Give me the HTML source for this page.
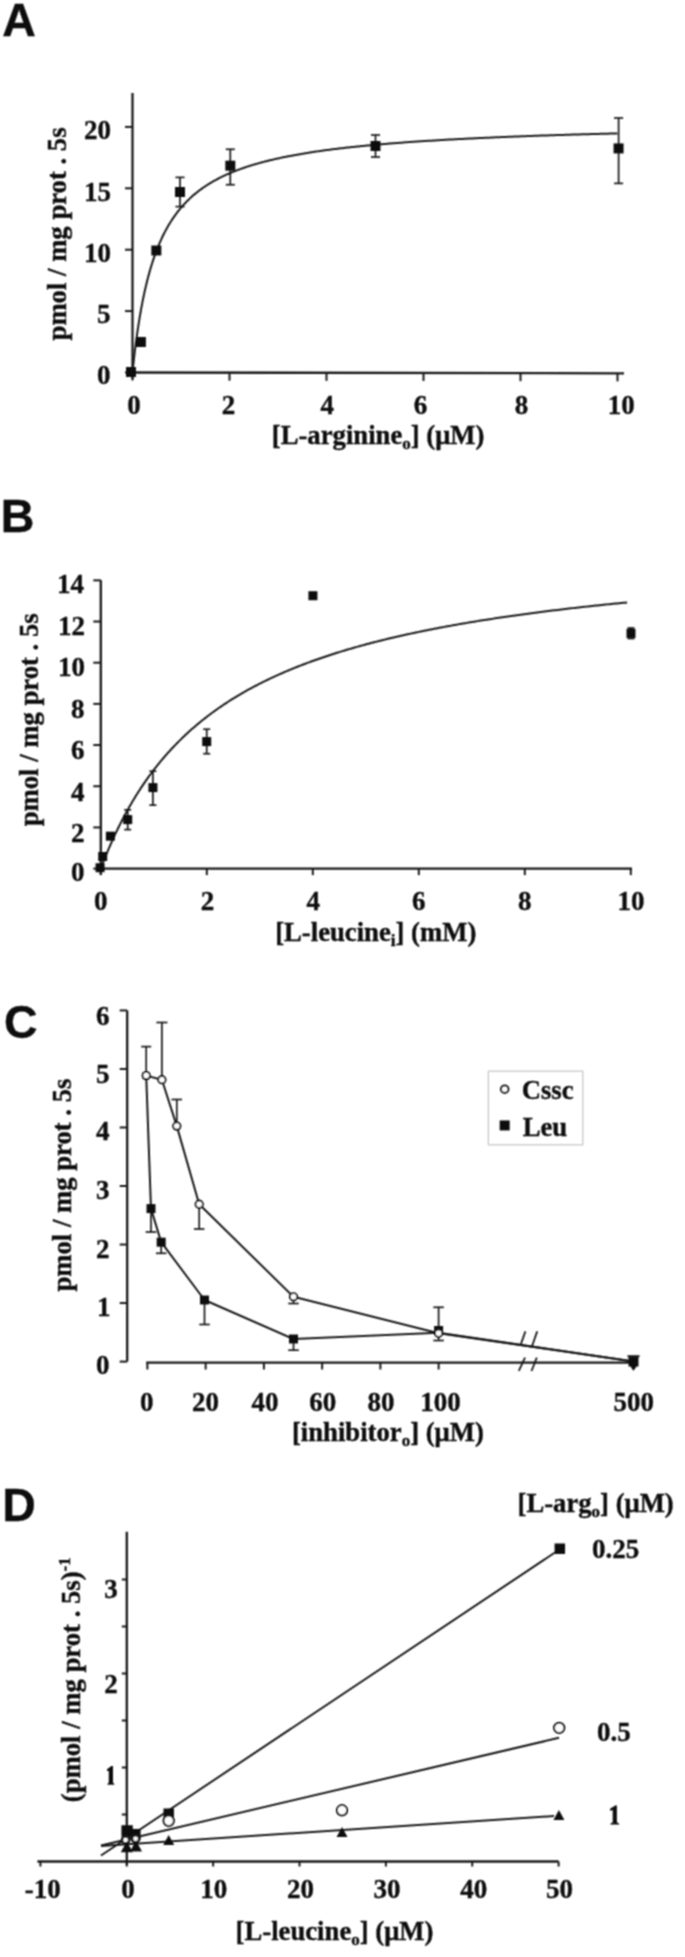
<!DOCTYPE html>
<html><head><meta charset="utf-8"><style>
html,body{margin:0;padding:0;background:#fff;}
svg{display:block;}
</style></head><body>
<svg width="685" height="1957" viewBox="0 0 685 1957">
<defs><filter id="soft" x="0" y="0" width="685" height="1957" filterUnits="userSpaceOnUse"><feConvolveMatrix order="3" kernelMatrix="1 2 1 2 4 2 1 2 1" divisor="16" edgeMode="none"/></filter></defs>
<g filter="url(#soft)">
<line x1="132.50" y1="93.00" x2="132.50" y2="379.00" stroke="#1a1a1a" stroke-width="2.3"/>
<line x1="132.50" y1="372.50" x2="624.00" y2="373.30" stroke="#1a1a1a" stroke-width="2.3"/>
<line x1="125.00" y1="372.50" x2="132.50" y2="372.50" stroke="#1a1a1a" stroke-width="2.0"/>
<line x1="125.00" y1="311.10" x2="132.50" y2="311.10" stroke="#1a1a1a" stroke-width="2.0"/>
<line x1="125.00" y1="249.70" x2="132.50" y2="249.70" stroke="#1a1a1a" stroke-width="2.0"/>
<line x1="125.00" y1="188.30" x2="132.50" y2="188.30" stroke="#1a1a1a" stroke-width="2.0"/>
<line x1="125.00" y1="126.90" x2="132.50" y2="126.90" stroke="#1a1a1a" stroke-width="2.0"/>
<line x1="132.50" y1="372.50" x2="132.50" y2="380.50" stroke="#1a1a1a" stroke-width="2.0"/>
<line x1="229.50" y1="372.66" x2="229.50" y2="380.66" stroke="#1a1a1a" stroke-width="2.0"/>
<line x1="326.50" y1="372.82" x2="326.50" y2="380.82" stroke="#1a1a1a" stroke-width="2.0"/>
<line x1="423.50" y1="372.98" x2="423.50" y2="380.98" stroke="#1a1a1a" stroke-width="2.0"/>
<line x1="520.50" y1="373.14" x2="520.50" y2="381.14" stroke="#1a1a1a" stroke-width="2.0"/>
<line x1="617.50" y1="373.30" x2="617.50" y2="381.30" stroke="#1a1a1a" stroke-width="2.0"/>
<path d="M132.50,372.50 L132.50,372.47 L132.51,372.38 L132.53,372.23 L132.55,372.02 L132.58,371.76 L132.61,371.43 L132.65,371.05 L132.69,370.61 L132.75,370.11 L132.80,369.55 L132.87,368.95 L132.94,368.28 L133.01,367.56 L133.09,366.79 L133.18,365.97 L133.28,365.10 L133.38,364.17 L133.48,363.20 L133.59,362.18 L133.71,361.12 L133.84,360.01 L133.97,358.86 L134.10,357.67 L134.25,356.43 L134.39,355.16 L134.55,353.85 L134.71,352.50 L134.88,351.12 L135.05,349.71 L135.23,348.26 L135.41,346.79 L135.60,345.28 L135.80,343.75 L136.00,342.20 L136.21,340.62 L136.43,339.02 L136.65,337.39 L136.88,335.75 L137.11,334.09 L137.35,332.41 L137.60,330.72 L137.85,329.01 L138.10,327.30 L138.37,325.57 L138.64,323.82 L138.91,322.08 L139.20,320.32 L139.48,318.56 L139.78,316.79 L140.08,315.01 L140.38,313.24 L140.70,311.46 L141.01,309.68 L141.34,307.90 L141.67,306.13 L142.01,304.35 L142.35,302.58 L142.70,300.81 L143.05,299.04 L143.41,297.28 L143.78,295.52 L144.15,293.77 L144.53,292.03 L144.92,290.30 L145.31,288.57 L145.70,286.86 L146.11,285.15 L146.52,283.45 L146.93,281.76 L147.35,280.09 L147.78,278.42 L148.21,276.77 L148.65,275.13 L149.10,273.50 L149.55,271.88 L150.01,270.27 L150.47,268.68 L150.94,267.11 L151.42,265.54 L151.90,263.99 L152.39,262.45 L152.88,260.93 L153.38,259.42 L153.89,257.93 L154.40,256.45 L154.92,254.99 L155.44,253.54 L155.97,252.10 L156.51,250.68 L157.05,249.28 L157.60,247.89 L158.16,246.51 L158.72,245.15 L159.28,243.80 L159.86,242.47 L160.44,241.16 L161.02,239.86 L161.61,238.57 L162.21,237.30 L162.81,236.04 L163.42,234.80 L164.04,233.57 L164.66,232.36 L165.29,231.16 L165.92,229.97 L166.56,228.80 L167.20,227.65 L167.86,226.50 L168.51,225.37 L169.18,224.26 L169.85,223.16 L170.52,222.07 L171.21,221.00 L171.89,219.93 L172.59,218.89 L173.29,217.85 L173.99,216.83 L174.71,215.82 L175.43,214.82 L176.15,213.84 L176.88,212.87 L177.62,211.91 L178.36,210.96 L179.11,210.03 L179.86,209.10 L180.62,208.19 L181.39,207.29 L182.16,206.40 L182.94,205.53 L183.73,204.66 L184.52,203.81 L185.32,202.96 L186.12,202.13 L186.93,201.30 L187.74,200.49 L188.57,199.69 L189.39,198.90 L190.23,198.12 L191.07,197.35 L191.91,196.58 L192.76,195.83 L193.62,195.09 L194.49,194.36 L195.36,193.63 L196.23,192.92 L197.11,192.21 L198.00,191.52 L198.90,190.83 L199.80,190.15 L200.70,189.48 L201.62,188.82 L202.53,188.16 L203.46,187.52 L204.39,186.88 L205.33,186.25 L206.27,185.63 L207.22,185.02 L208.17,184.41 L209.13,183.81 L210.10,183.22 L211.07,182.64 L212.05,182.06 L213.04,181.49 L214.03,180.93 L215.03,180.38 L216.03,179.83 L217.04,179.29 L218.05,178.75 L219.08,178.22 L220.10,177.70 L221.14,177.19 L222.18,176.68 L223.22,176.18 L224.27,175.68 L225.33,175.19 L226.40,174.70 L227.47,174.23 L228.54,173.75 L229.62,173.29 L230.71,172.82 L231.81,172.37 L232.91,171.92 L234.01,171.47 L235.13,171.03 L236.24,170.60 L237.37,170.17 L238.50,169.74 L239.64,169.32 L240.78,168.91 L241.93,168.50 L243.08,168.09 L244.24,167.69 L245.41,167.30 L246.58,166.91 L247.76,166.52 L248.95,166.14 L250.14,165.76 L251.34,165.39 L252.54,165.02 L253.75,164.66 L254.97,164.30 L256.19,163.94 L257.41,163.59 L258.65,163.24 L259.89,162.90 L261.13,162.56 L262.39,162.22 L263.64,161.89 L264.91,161.56 L266.18,161.23 L267.45,160.91 L268.74,160.59 L270.02,160.28 L271.32,159.97 L272.62,159.66 L273.93,159.35 L275.24,159.05 L276.56,158.76 L277.88,158.46 L279.21,158.17 L280.55,157.88 L281.89,157.60 L283.24,157.32 L284.60,157.04 L285.96,156.76 L287.32,156.49 L288.70,156.22 L290.08,155.95 L291.46,155.69 L292.85,155.43 L294.25,155.17 L295.65,154.91 L297.06,154.66 L298.48,154.41 L299.90,154.16 L301.33,153.92 L302.76,153.67 L304.20,153.43 L305.65,153.19 L307.10,152.96 L308.56,152.73 L310.02,152.50 L311.49,152.27 L312.97,152.04 L314.45,151.82 L315.94,151.60 L317.43,151.38 L318.93,151.16 L320.44,150.95 L321.95,150.74 L323.47,150.53 L325.00,150.32 L326.53,150.11 L328.06,149.91 L329.61,149.71 L331.16,149.51 L332.71,149.31 L334.27,149.11 L335.84,148.92 L337.41,148.73 L338.99,148.53 L340.58,148.35 L342.17,148.16 L343.77,147.98 L345.37,147.79 L346.98,147.61 L348.59,147.43 L350.22,147.25 L351.84,147.08 L353.48,146.90 L355.12,146.73 L356.76,146.56 L358.42,146.39 L360.07,146.22 L361.74,146.06 L363.41,145.89 L365.08,145.73 L366.77,145.57 L368.46,145.41 L370.15,145.25 L371.85,145.09 L373.56,144.93 L375.27,144.78 L376.99,144.63 L378.71,144.48 L380.44,144.33 L382.18,144.18 L383.92,144.03 L385.67,143.88 L387.43,143.74 L389.19,143.60 L390.96,143.45 L392.73,143.31 L394.51,143.17 L396.29,143.04 L398.09,142.90 L399.88,142.76 L401.69,142.63 L403.50,142.49 L405.31,142.36 L407.13,142.23 L408.96,142.10 L410.80,141.97 L412.64,141.84 L414.48,141.72 L416.33,141.59 L418.19,141.47 L420.06,141.35 L421.93,141.22 L423.80,141.10 L425.69,140.98 L427.57,140.86 L429.47,140.74 L431.37,140.63 L433.28,140.51 L435.19,140.40 L437.11,140.28 L439.03,140.17 L440.96,140.06 L442.90,139.95 L444.84,139.84 L446.79,139.73 L448.75,139.62 L450.71,139.51 L452.68,139.40 L454.65,139.30 L456.63,139.19 L458.61,139.09 L460.61,138.99 L462.60,138.88 L464.61,138.78 L466.62,138.68 L468.63,138.58 L470.65,138.48 L472.68,138.38 L474.72,138.29 L476.76,138.19 L478.80,138.09 L480.85,138.00 L482.91,137.90 L484.98,137.81 L487.05,137.72 L489.12,137.63 L491.21,137.53 L493.29,137.44 L495.39,137.35 L497.49,137.26 L499.60,137.18 L501.71,137.09 L503.83,137.00 L505.95,136.91 L508.08,136.83 L510.22,136.74 L512.36,136.66 L514.51,136.58 L516.67,136.49 L518.83,136.41 L521.00,136.33 L523.17,136.25 L525.35,136.17 L527.54,136.09 L529.73,136.01 L531.92,135.93 L534.13,135.85 L536.34,135.77 L538.55,135.69 L540.78,135.62 L543.00,135.54 L545.24,135.47 L547.48,135.39 L549.72,135.32 L551.98,135.24 L554.23,135.17 L556.50,135.10 L558.77,135.03 L561.05,134.95 L563.33,134.88 L565.62,134.81 L567.91,134.74 L570.21,134.67 L572.52,134.60 L574.83,134.54 L577.15,134.47 L579.48,134.40 L581.81,134.33 L584.14,134.27 L586.49,134.20 L588.84,134.14 L591.19,134.07 L593.55,134.01 L595.92,133.94 L598.29,133.88 L600.67,133.82 L603.06,133.75 L605.45,133.69 L607.85,133.63 L610.25,133.57 L612.66,133.51 L615.08,133.45 L617.50,133.39" fill="none" stroke="#1a1a1a" stroke-width="2.0" stroke-linejoin="round"/>
<rect x="126.00" y="367.00" width="10" height="10" fill="#111"/>
<rect x="135.90" y="337.00" width="10" height="10" fill="#111"/>
<rect x="151.30" y="245.50" width="10" height="10" fill="#111"/>
<line x1="180.00" y1="177.40" x2="180.00" y2="206.60" stroke="#1a1a1a" stroke-width="1.7"/>
<line x1="175.50" y1="177.40" x2="184.50" y2="177.40" stroke="#1a1a1a" stroke-width="1.7"/>
<line x1="175.50" y1="206.60" x2="184.50" y2="206.60" stroke="#1a1a1a" stroke-width="1.7"/>
<rect x="175.00" y="187.00" width="10" height="10" fill="#111"/>
<line x1="230.30" y1="149.30" x2="230.30" y2="184.70" stroke="#1a1a1a" stroke-width="1.7"/>
<line x1="225.80" y1="149.30" x2="234.80" y2="149.30" stroke="#1a1a1a" stroke-width="1.7"/>
<line x1="225.80" y1="184.70" x2="234.80" y2="184.70" stroke="#1a1a1a" stroke-width="1.7"/>
<rect x="225.30" y="160.70" width="10" height="10" fill="#111"/>
<line x1="375.50" y1="135.00" x2="375.50" y2="157.00" stroke="#1a1a1a" stroke-width="1.7"/>
<line x1="371.00" y1="135.00" x2="380.00" y2="135.00" stroke="#1a1a1a" stroke-width="1.7"/>
<line x1="371.00" y1="157.00" x2="380.00" y2="157.00" stroke="#1a1a1a" stroke-width="1.7"/>
<rect x="370.50" y="141.00" width="10" height="10" fill="#111"/>
<line x1="618.60" y1="118.00" x2="618.60" y2="183.40" stroke="#1a1a1a" stroke-width="1.7"/>
<line x1="614.10" y1="118.00" x2="623.10" y2="118.00" stroke="#1a1a1a" stroke-width="1.7"/>
<line x1="614.10" y1="183.40" x2="623.10" y2="183.40" stroke="#1a1a1a" stroke-width="1.7"/>
<rect x="613.60" y="143.40" width="10" height="10" fill="#111"/>
<line x1="100.80" y1="580.30" x2="100.80" y2="875.00" stroke="#1a1a1a" stroke-width="2.3"/>
<line x1="100.80" y1="868.60" x2="632.00" y2="868.60" stroke="#1a1a1a" stroke-width="2.3"/>
<line x1="93.30" y1="868.60" x2="100.80" y2="868.60" stroke="#1a1a1a" stroke-width="2.0"/>
<line x1="93.30" y1="827.42" x2="100.80" y2="827.42" stroke="#1a1a1a" stroke-width="2.0"/>
<line x1="93.30" y1="786.24" x2="100.80" y2="786.24" stroke="#1a1a1a" stroke-width="2.0"/>
<line x1="93.30" y1="745.06" x2="100.80" y2="745.06" stroke="#1a1a1a" stroke-width="2.0"/>
<line x1="93.30" y1="703.88" x2="100.80" y2="703.88" stroke="#1a1a1a" stroke-width="2.0"/>
<line x1="93.30" y1="662.70" x2="100.80" y2="662.70" stroke="#1a1a1a" stroke-width="2.0"/>
<line x1="93.30" y1="621.52" x2="100.80" y2="621.52" stroke="#1a1a1a" stroke-width="2.0"/>
<line x1="93.30" y1="580.34" x2="100.80" y2="580.34" stroke="#1a1a1a" stroke-width="2.0"/>
<line x1="100.80" y1="868.60" x2="100.80" y2="875.10" stroke="#1a1a1a" stroke-width="2.0"/>
<line x1="206.80" y1="868.60" x2="206.80" y2="875.10" stroke="#1a1a1a" stroke-width="2.0"/>
<line x1="312.80" y1="868.60" x2="312.80" y2="875.10" stroke="#1a1a1a" stroke-width="2.0"/>
<line x1="418.80" y1="868.60" x2="418.80" y2="875.10" stroke="#1a1a1a" stroke-width="2.0"/>
<line x1="524.80" y1="868.60" x2="524.80" y2="875.10" stroke="#1a1a1a" stroke-width="2.0"/>
<line x1="630.80" y1="868.60" x2="630.80" y2="875.10" stroke="#1a1a1a" stroke-width="2.0"/>
<path d="M100.80,868.60 L100.87,868.43 L100.99,868.11 L101.14,867.69 L101.33,867.21 L101.54,866.65 L101.77,866.05 L102.02,865.39 L102.29,864.69 L102.58,863.94 L102.88,863.16 L103.20,862.33 L103.53,861.48 L103.88,860.59 L104.25,859.68 L104.62,858.74 L105.01,857.77 L105.41,856.77 L105.82,855.75 L106.25,854.71 L106.68,853.65 L107.13,852.57 L107.59,851.48 L108.06,850.36 L108.53,849.23 L109.02,848.08 L109.52,846.92 L110.03,845.75 L110.55,844.56 L111.07,843.36 L111.61,842.15 L112.15,840.93 L112.71,839.70 L113.27,838.46 L113.84,837.21 L114.42,835.95 L115.01,834.69 L115.61,833.42 L116.21,832.14 L116.82,830.86 L117.44,829.57 L118.07,828.28 L118.71,826.98 L119.35,825.68 L120.00,824.38 L120.66,823.08 L121.32,821.77 L122.00,820.46 L122.68,819.14 L123.36,817.83 L124.06,816.52 L124.76,815.20 L125.47,813.89 L126.18,812.57 L126.91,811.25 L127.63,809.94 L128.37,808.63 L129.11,807.31 L129.86,806.00 L130.61,804.69 L131.37,803.38 L132.14,802.08 L132.92,800.78 L133.70,799.47 L134.48,798.18 L135.28,796.88 L136.07,795.59 L136.88,794.30 L137.69,793.01 L138.51,791.73 L139.33,790.45 L140.16,789.18 L140.99,787.91 L141.83,786.64 L142.68,785.38 L143.53,784.12 L144.39,782.87 L145.25,781.62 L146.12,780.38 L146.99,779.14 L147.87,777.91 L148.76,776.68 L149.65,775.45 L150.55,774.24 L151.45,773.02 L152.35,771.82 L153.27,770.61 L154.18,769.42 L155.11,768.23 L156.04,767.04 L156.97,765.86 L157.91,764.69 L158.85,763.52 L159.80,762.36 L160.76,761.20 L161.71,760.05 L162.68,758.90 L163.65,757.76 L164.62,756.63 L165.60,755.50 L166.59,754.38 L167.58,753.27 L168.57,752.16 L169.57,751.06 L170.57,749.96 L171.58,748.87 L172.59,747.79 L173.61,746.71 L174.64,745.64 L175.66,744.57 L176.70,743.51 L177.73,742.46 L178.78,741.41 L179.82,740.37 L180.87,739.34 L181.93,738.31 L182.99,737.28 L184.06,736.27 L185.13,735.26 L186.20,734.25 L187.28,733.25 L188.36,732.26 L189.45,731.28 L190.54,730.30 L191.64,729.32 L192.74,728.36 L193.84,727.39 L194.95,726.44 L196.07,725.49 L197.19,724.54 L198.31,723.61 L199.44,722.68 L200.57,721.75 L201.70,720.83 L202.85,719.91 L203.99,719.01 L205.14,718.10 L206.29,717.21 L207.45,716.32 L208.61,715.43 L209.78,714.55 L210.94,713.68 L212.12,712.81 L213.30,711.95 L214.48,711.09 L215.66,710.24 L216.86,709.39 L218.05,708.55 L219.25,707.72 L220.45,706.89 L221.66,706.06 L222.87,705.24 L224.08,704.43 L225.30,703.62 L226.52,702.82 L227.75,702.02 L228.98,701.23 L230.21,700.44 L231.45,699.66 L232.70,698.88 L233.94,698.11 L235.19,697.35 L236.45,696.58 L237.70,695.83 L238.97,695.08 L240.23,694.33 L241.50,693.59 L242.77,692.85 L244.05,692.12 L245.33,691.39 L246.62,690.67 L247.91,689.95 L249.20,689.24 L250.49,688.53 L251.79,687.83 L253.10,687.13 L254.40,686.43 L255.72,685.75 L257.03,685.06 L258.35,684.38 L259.67,683.70 L261.00,683.03 L262.33,682.36 L263.66,681.70 L265.00,681.04 L266.34,680.39 L267.68,679.74 L269.03,679.09 L270.38,678.45 L271.73,677.82 L273.09,677.18 L274.45,676.55 L275.82,675.93 L277.19,675.31 L278.56,674.69 L279.94,674.08 L281.32,673.47 L282.70,672.87 L284.09,672.26 L285.48,671.67 L286.87,671.07 L288.27,670.49 L289.67,669.90 L291.07,669.32 L292.48,668.74 L293.89,668.17 L295.31,667.60 L296.73,667.03 L298.15,666.47 L299.57,665.91 L301.00,665.35 L302.43,664.80 L303.87,664.25 L305.31,663.71 L306.75,663.17 L308.19,662.63 L309.64,662.09 L311.09,661.56 L312.55,661.03 L314.01,660.51 L315.47,659.99 L316.93,659.47 L318.40,658.96 L319.87,658.45 L321.35,657.94 L322.83,657.43 L324.31,656.93 L325.80,656.43 L327.28,655.94 L328.78,655.45 L330.27,654.96 L331.77,654.47 L333.27,653.99 L334.77,653.51 L336.28,653.03 L337.79,652.56 L339.31,652.09 L340.83,651.62 L342.35,651.15 L343.87,650.69 L345.40,650.23 L346.93,649.77 L348.46,649.32 L350.00,648.87 L351.54,648.42 L353.08,647.98 L354.63,647.53 L356.18,647.09 L357.73,646.66 L359.28,646.22 L360.84,645.79 L362.40,645.36 L363.97,644.94 L365.54,644.51 L367.11,644.09 L368.68,643.67 L370.26,643.26 L371.84,642.84 L373.42,642.43 L375.01,642.02 L376.60,641.62 L378.19,641.21 L379.79,640.81 L381.39,640.41 L382.99,640.02 L384.59,639.62 L386.20,639.23 L387.81,638.84 L389.43,638.45 L391.04,638.07 L392.66,637.69 L394.29,637.31 L395.91,636.93 L397.54,636.55 L399.17,636.18 L400.81,635.81 L402.45,635.44 L404.09,635.07 L405.73,634.71 L407.38,634.34 L409.03,633.98 L410.68,633.62 L412.34,633.27 L413.99,632.91 L415.66,632.56 L417.32,632.21 L418.99,631.86 L420.66,631.52 L422.33,631.17 L424.01,630.83 L425.69,630.49 L427.37,630.15 L429.05,629.82 L430.74,629.48 L432.43,629.15 L434.13,628.82 L435.82,628.49 L437.52,628.16 L439.22,627.84 L440.93,627.51 L442.64,627.19 L444.35,626.87 L446.06,626.56 L447.78,626.24 L449.49,625.93 L451.22,625.61 L452.94,625.30 L454.67,624.99 L456.40,624.69 L458.13,624.38 L459.87,624.08 L461.61,623.78 L463.35,623.48 L465.09,623.18 L466.84,622.88 L468.59,622.59 L470.34,622.29 L472.10,622.00 L473.86,621.71 L475.62,621.42 L477.38,621.13 L479.15,620.85 L480.92,620.56 L482.69,620.28 L484.47,620.00 L486.24,619.72 L488.02,619.44 L489.81,619.17 L491.59,618.89 L493.38,618.62 L495.17,618.35 L496.97,618.08 L498.76,617.81 L500.56,617.54 L502.36,617.27 L504.17,617.01 L505.98,616.74 L507.79,616.48 L509.60,616.22 L511.41,615.96 L513.23,615.70 L515.05,615.45 L516.88,615.19 L518.70,614.94 L520.53,614.69 L522.36,614.44 L524.20,614.19 L526.04,613.94 L527.87,613.69 L529.72,613.45 L531.56,613.20 L533.41,612.96 L535.26,612.72 L537.11,612.48 L538.97,612.24 L540.83,612.00 L542.69,611.76 L544.55,611.52 L546.41,611.29 L548.28,611.06 L550.15,610.82 L552.03,610.59 L553.90,610.36 L555.78,610.14 L557.66,609.91 L559.55,609.68 L561.43,609.46 L563.32,609.23 L565.22,609.01 L567.11,608.79 L569.01,608.57 L570.91,608.35 L572.81,608.13 L574.71,607.91 L576.62,607.70 L578.53,607.48 L580.44,607.27 L582.36,607.05 L584.27,606.84 L586.19,606.63 L588.12,606.42 L590.04,606.21 L591.97,606.01 L593.90,605.80 L595.83,605.59 L597.77,605.39 L599.70,605.18 L601.64,604.98 L603.59,604.78 L605.53,604.58 L607.48,604.38 L609.43,604.18 L611.38,603.98 L613.34,603.79 L615.29,603.59 L617.25,603.40 L619.22,603.20 L621.18,603.01 L623.15,602.82 L625.12,602.63 L627.09,602.44" fill="none" stroke="#1a1a1a" stroke-width="2.0" stroke-linejoin="round"/>
<rect x="95.60" y="863.20" width="9" height="9" fill="#111"/>
<rect x="98.20" y="852.00" width="9" height="9" fill="#111"/>
<rect x="105.90" y="831.70" width="9" height="9" fill="#111"/>
<line x1="127.70" y1="809.80" x2="127.70" y2="829.60" stroke="#1a1a1a" stroke-width="1.7"/>
<line x1="124.20" y1="809.80" x2="131.20" y2="809.80" stroke="#1a1a1a" stroke-width="1.7"/>
<line x1="124.20" y1="829.60" x2="131.20" y2="829.60" stroke="#1a1a1a" stroke-width="1.7"/>
<rect x="123.20" y="815.10" width="9" height="9" fill="#111"/>
<line x1="152.90" y1="771.20" x2="152.90" y2="805.10" stroke="#1a1a1a" stroke-width="1.7"/>
<line x1="149.40" y1="771.20" x2="156.40" y2="771.20" stroke="#1a1a1a" stroke-width="1.7"/>
<line x1="149.40" y1="805.10" x2="156.40" y2="805.10" stroke="#1a1a1a" stroke-width="1.7"/>
<rect x="148.40" y="783.10" width="9" height="9" fill="#111"/>
<line x1="206.70" y1="729.20" x2="206.70" y2="753.70" stroke="#1a1a1a" stroke-width="1.7"/>
<line x1="203.20" y1="729.20" x2="210.20" y2="729.20" stroke="#1a1a1a" stroke-width="1.7"/>
<line x1="203.20" y1="753.70" x2="210.20" y2="753.70" stroke="#1a1a1a" stroke-width="1.7"/>
<rect x="202.20" y="737.10" width="9" height="9" fill="#111"/>
<rect x="308.40" y="591.20" width="9" height="9" fill="#111"/>
<line x1="631.00" y1="628.00" x2="631.00" y2="638.50" stroke="#1a1a1a" stroke-width="1.7"/>
<line x1="627.50" y1="628.00" x2="634.50" y2="628.00" stroke="#1a1a1a" stroke-width="1.7"/>
<line x1="627.50" y1="638.50" x2="634.50" y2="638.50" stroke="#1a1a1a" stroke-width="1.7"/>
<rect x="626.50" y="628.90" width="9" height="9" fill="#111"/>
<line x1="127.20" y1="1010.42" x2="127.20" y2="1361.60" stroke="#1a1a1a" stroke-width="2.3"/>
<line x1="119.70" y1="1361.60" x2="127.20" y2="1361.60" stroke="#1a1a1a" stroke-width="2.0"/>
<line x1="119.70" y1="1303.07" x2="127.20" y2="1303.07" stroke="#1a1a1a" stroke-width="2.0"/>
<line x1="119.70" y1="1244.54" x2="127.20" y2="1244.54" stroke="#1a1a1a" stroke-width="2.0"/>
<line x1="119.70" y1="1186.01" x2="127.20" y2="1186.01" stroke="#1a1a1a" stroke-width="2.0"/>
<line x1="119.70" y1="1127.48" x2="127.20" y2="1127.48" stroke="#1a1a1a" stroke-width="2.0"/>
<line x1="119.70" y1="1068.95" x2="127.20" y2="1068.95" stroke="#1a1a1a" stroke-width="2.0"/>
<line x1="119.70" y1="1010.42" x2="127.20" y2="1010.42" stroke="#1a1a1a" stroke-width="2.0"/>
<line x1="146.20" y1="1362.70" x2="633.20" y2="1362.70" stroke="#1a1a1a" stroke-width="2.3"/>
<line x1="147.40" y1="1362.70" x2="147.40" y2="1369.50" stroke="#1a1a1a" stroke-width="2.0"/>
<line x1="205.65" y1="1362.70" x2="205.65" y2="1369.50" stroke="#1a1a1a" stroke-width="2.0"/>
<line x1="263.90" y1="1362.70" x2="263.90" y2="1369.50" stroke="#1a1a1a" stroke-width="2.0"/>
<line x1="322.15" y1="1362.70" x2="322.15" y2="1369.50" stroke="#1a1a1a" stroke-width="2.0"/>
<line x1="380.40" y1="1362.70" x2="380.40" y2="1369.50" stroke="#1a1a1a" stroke-width="2.0"/>
<line x1="438.65" y1="1362.70" x2="438.65" y2="1369.50" stroke="#1a1a1a" stroke-width="2.0"/>
<line x1="633.20" y1="1362.70" x2="633.20" y2="1369.50" stroke="#1a1a1a" stroke-width="2.0"/>
<line x1="518.80" y1="1370.80" x2="525.00" y2="1357.70" stroke="#1a1a1a" stroke-width="1.8"/>
<line x1="531.50" y1="1371.00" x2="536.80" y2="1357.70" stroke="#1a1a1a" stroke-width="1.8"/>
<path d="M146.20,1075.60 L161.90,1079.70 L176.80,1126.10 L199.20,1204.20 L293.50,1296.80 L438.60,1333.30 L633.50,1361.50" fill="none" stroke="#1a1a1a" stroke-width="2.0" stroke-linejoin="round"/>
<path d="M146.20,1075.60 L151.00,1208.60 L161.20,1242.20 L204.50,1300.00 L293.50,1339.00 L438.60,1332.80 L633.50,1361.50" fill="none" stroke="#1a1a1a" stroke-width="2.0" stroke-linejoin="round"/>
<line x1="146.20" y1="1075.60" x2="146.20" y2="1046.60" stroke="#1a1a1a" stroke-width="1.7"/>
<line x1="141.20" y1="1046.60" x2="151.20" y2="1046.60" stroke="#1a1a1a" stroke-width="1.7"/>
<line x1="161.90" y1="1079.70" x2="161.90" y2="1022.50" stroke="#1a1a1a" stroke-width="1.7"/>
<line x1="156.40" y1="1022.50" x2="167.40" y2="1022.50" stroke="#1a1a1a" stroke-width="1.7"/>
<line x1="176.80" y1="1126.10" x2="176.80" y2="1099.50" stroke="#1a1a1a" stroke-width="1.7"/>
<line x1="171.55" y1="1099.50" x2="182.05" y2="1099.50" stroke="#1a1a1a" stroke-width="1.7"/>
<line x1="199.20" y1="1204.20" x2="199.20" y2="1229.00" stroke="#1a1a1a" stroke-width="1.7"/>
<line x1="193.95" y1="1229.00" x2="204.45" y2="1229.00" stroke="#1a1a1a" stroke-width="1.7"/>
<line x1="293.50" y1="1296.80" x2="293.50" y2="1303.50" stroke="#1a1a1a" stroke-width="1.7"/>
<line x1="288.25" y1="1303.50" x2="298.75" y2="1303.50" stroke="#1a1a1a" stroke-width="1.7"/>
<line x1="438.60" y1="1333.30" x2="438.60" y2="1307.30" stroke="#1a1a1a" stroke-width="1.7"/>
<line x1="433.35" y1="1307.30" x2="443.85" y2="1307.30" stroke="#1a1a1a" stroke-width="1.7"/>
<line x1="438.60" y1="1333.30" x2="438.60" y2="1340.50" stroke="#1a1a1a" stroke-width="1.7"/>
<line x1="433.35" y1="1340.50" x2="443.85" y2="1340.50" stroke="#1a1a1a" stroke-width="1.7"/>
<line x1="151.00" y1="1208.60" x2="151.00" y2="1232.00" stroke="#1a1a1a" stroke-width="1.7"/>
<line x1="145.75" y1="1232.00" x2="156.25" y2="1232.00" stroke="#1a1a1a" stroke-width="1.7"/>
<line x1="161.20" y1="1242.20" x2="161.20" y2="1253.30" stroke="#1a1a1a" stroke-width="1.7"/>
<line x1="155.95" y1="1253.30" x2="166.45" y2="1253.30" stroke="#1a1a1a" stroke-width="1.7"/>
<line x1="204.50" y1="1300.00" x2="204.50" y2="1324.50" stroke="#1a1a1a" stroke-width="1.7"/>
<line x1="199.25" y1="1324.50" x2="209.75" y2="1324.50" stroke="#1a1a1a" stroke-width="1.7"/>
<line x1="293.50" y1="1339.00" x2="293.50" y2="1350.20" stroke="#1a1a1a" stroke-width="1.7"/>
<line x1="288.25" y1="1350.20" x2="298.75" y2="1350.20" stroke="#1a1a1a" stroke-width="1.7"/>
<line x1="520.60" y1="1345.00" x2="525.40" y2="1331.40" stroke="#1a1a1a" stroke-width="1.8"/>
<line x1="532.00" y1="1346.30" x2="537.20" y2="1331.40" stroke="#1a1a1a" stroke-width="1.8"/>
<rect x="146.50" y="1204.10" width="9" height="9" fill="#111"/>
<rect x="156.70" y="1237.70" width="9" height="9" fill="#111"/>
<rect x="200.00" y="1295.50" width="9" height="9" fill="#111"/>
<rect x="289.00" y="1334.50" width="9" height="9" fill="#111"/>
<rect x="434.10" y="1326.00" width="9" height="9" fill="#111"/>
<rect x="628.50" y="1356.50" width="10" height="10" fill="#111"/>
<line x1="627.50" y1="1356.20" x2="639.50" y2="1356.20" stroke="#1a1a1a" stroke-width="2"/>
<path d="M629.8,1365.5 L637.2,1365.5 L633.5,1370.8 Z" fill="#111"/>
<rect x="142.70" y="1072.10" width="7" height="7" fill="#111"/>
<circle cx="146.20" cy="1075.60" r="3.7" fill="#fff" stroke="#1a1a1a" stroke-width="1.9"/>
<circle cx="161.90" cy="1079.70" r="3.7" fill="#fff" stroke="#1a1a1a" stroke-width="1.9"/>
<circle cx="176.80" cy="1126.10" r="3.7" fill="#fff" stroke="#1a1a1a" stroke-width="1.9"/>
<circle cx="199.20" cy="1204.20" r="3.7" fill="#fff" stroke="#1a1a1a" stroke-width="1.9"/>
<circle cx="293.50" cy="1296.80" r="3.7" fill="#fff" stroke="#1a1a1a" stroke-width="1.9"/>
<circle cx="438.60" cy="1333.30" r="3.7" fill="#fff" stroke="#1a1a1a" stroke-width="1.9"/>
<rect x="488.4" y="1071.2" width="94.4" height="73.6" fill="none" stroke="#c4c4c4" stroke-width="1.2"/>
<circle cx="504.70" cy="1089.20" r="3.7" fill="#fff" stroke="#1a1a1a" stroke-width="2.1"/>
<rect x="499.70" y="1120.40" width="10" height="10" fill="#111"/>
<line x1="126.80" y1="1531.70" x2="126.80" y2="1865.00" stroke="#1a1a1a" stroke-width="2.3"/>
<line x1="37.40" y1="1861.50" x2="558.60" y2="1861.50" stroke="#1a1a1a" stroke-width="2.3"/>
<line x1="121.80" y1="1814.50" x2="126.80" y2="1814.50" stroke="#1a1a1a" stroke-width="2.0"/>
<line x1="121.80" y1="1767.50" x2="126.80" y2="1767.50" stroke="#1a1a1a" stroke-width="2.0"/>
<line x1="121.80" y1="1720.50" x2="126.80" y2="1720.50" stroke="#1a1a1a" stroke-width="2.0"/>
<line x1="121.80" y1="1673.50" x2="126.80" y2="1673.50" stroke="#1a1a1a" stroke-width="2.0"/>
<line x1="121.80" y1="1626.50" x2="126.80" y2="1626.50" stroke="#1a1a1a" stroke-width="2.0"/>
<line x1="121.80" y1="1579.50" x2="126.80" y2="1579.50" stroke="#1a1a1a" stroke-width="2.0"/>
<path d="M107.00,1769.25 L111.40,1766.10 L113.00,1766.10 L113.00,1782.40 L114.30,1784.00 L114.30,1784.80 L107.50,1784.80 L107.50,1784.00 L108.80,1782.40 L108.80,1770.63 L107.00,1771.32 Z" fill="#0d0d0d"/>
<line x1="40.44" y1="1861.50" x2="40.44" y2="1866.50" stroke="#1a1a1a" stroke-width="2.0"/>
<line x1="126.80" y1="1861.50" x2="126.80" y2="1866.50" stroke="#1a1a1a" stroke-width="2.0"/>
<line x1="213.16" y1="1861.50" x2="213.16" y2="1866.50" stroke="#1a1a1a" stroke-width="2.0"/>
<line x1="299.52" y1="1861.50" x2="299.52" y2="1866.50" stroke="#1a1a1a" stroke-width="2.0"/>
<line x1="385.88" y1="1861.50" x2="385.88" y2="1866.50" stroke="#1a1a1a" stroke-width="2.0"/>
<line x1="472.24" y1="1861.50" x2="472.24" y2="1866.50" stroke="#1a1a1a" stroke-width="2.0"/>
<line x1="558.60" y1="1861.50" x2="558.60" y2="1866.50" stroke="#1a1a1a" stroke-width="2.0"/>
<path d="M610.00,1808.63 L615.30,1805.40 L616.90,1805.40 L616.90,1822.20 L619.20,1823.80 L619.20,1824.60 L610.40,1824.60 L610.40,1823.80 L612.70,1822.20 L612.70,1810.05 L610.00,1810.76 Z" fill="#0d0d0d"/>
<path d="M101.00,1855.50 L555.00,1552.50" fill="none" stroke="#1a1a1a" stroke-width="2.0" stroke-linejoin="round"/>
<path d="M101.00,1845.50 L559.00,1737.80" fill="none" stroke="#1a1a1a" stroke-width="2.0" stroke-linejoin="round"/>
<path d="M101.00,1846.00 L554.00,1816.00" fill="none" stroke="#1a1a1a" stroke-width="2.0" stroke-linejoin="round"/>
<rect x="121.40" y="1825.20" width="11.4" height="11.4" fill="#111"/>
<rect x="130.15" y="1828.95" width="10.5" height="10.5" fill="#111"/>
<rect x="163.45" y="1808.45" width="10.5" height="10.5" fill="#111"/>
<rect x="554.55" y="1543.45" width="10.5" height="10.5" fill="#111"/>
<circle cx="125.60" cy="1840.00" r="3.6" fill="#fff" stroke="#1a1a1a" stroke-width="2.6"/>
<circle cx="135.60" cy="1838.80" r="3.6" fill="#fff" stroke="#1a1a1a" stroke-width="2.6"/>
<circle cx="168.70" cy="1820.80" r="5.2" fill="#fff" stroke="#1a1a1a" stroke-width="2"/>
<circle cx="342.00" cy="1810.30" r="5.2" fill="#fff" stroke="#1a1a1a" stroke-width="2"/>
<circle cx="559.20" cy="1727.90" r="5.2" fill="#fff" stroke="#1a1a1a" stroke-width="2"/>
<path d="M120.80,1852.26 L126.80,1841.34 L132.80,1852.26 Z" fill="#111"/>
<path d="M130.00,1851.46 L136.00,1840.54 L142.00,1851.46 Z" fill="#111"/>
<path d="M163.20,1845.11 L168.70,1835.09 L174.20,1845.11 Z" fill="#111"/>
<path d="M336.50,1837.01 L342.00,1826.99 L347.50,1837.01 Z" fill="#111"/>
<path d="M553.40,1820.01 L558.90,1809.99 L564.40,1820.01 Z" fill="#111"/>
<text transform="translate(2.20,35.60)" font-size="46.5" font-family='"Liberation Sans", sans-serif' font-weight="bold" fill="#0d0d0d" stroke="#0d0d0d" stroke-width="0.35">A</text>
<text transform="translate(97.00,384.10)" font-size="27" font-family='"Liberation Serif", serif' font-weight="bold" fill="#0d0d0d" stroke="#0d0d0d" stroke-width="0.35">0</text>
<text transform="translate(97.00,323.10)" font-size="27" font-family='"Liberation Serif", serif' font-weight="bold" fill="#0d0d0d" stroke="#0d0d0d" stroke-width="0.35">5</text>
<text transform="translate(84.00,262.00)" font-size="27" font-family='"Liberation Serif", serif' font-weight="bold" fill="#0d0d0d" stroke="#0d0d0d" stroke-width="0.35">10</text>
<text transform="translate(84.00,201.00)" font-size="27" font-family='"Liberation Serif", serif' font-weight="bold" fill="#0d0d0d" stroke="#0d0d0d" stroke-width="0.35">15</text>
<text transform="translate(84.00,138.90)" font-size="27" font-family='"Liberation Serif", serif' font-weight="bold" fill="#0d0d0d" stroke="#0d0d0d" stroke-width="0.35">20</text>
<text transform="translate(127.20,413.50)" font-size="27" font-family='"Liberation Serif", serif' font-weight="bold" fill="#0d0d0d" stroke="#0d0d0d" stroke-width="0.35">0</text>
<text transform="translate(221.70,413.50)" font-size="27" font-family='"Liberation Serif", serif' font-weight="bold" fill="#0d0d0d" stroke="#0d0d0d" stroke-width="0.35">2</text>
<text transform="translate(320.50,413.50)" font-size="27" font-family='"Liberation Serif", serif' font-weight="bold" fill="#0d0d0d" stroke="#0d0d0d" stroke-width="0.35">4</text>
<text transform="translate(413.70,413.50)" font-size="27" font-family='"Liberation Serif", serif' font-weight="bold" fill="#0d0d0d" stroke="#0d0d0d" stroke-width="0.35">6</text>
<text transform="translate(514.80,413.50)" font-size="27" font-family='"Liberation Serif", serif' font-weight="bold" fill="#0d0d0d" stroke="#0d0d0d" stroke-width="0.35">8</text>
<text transform="translate(607.80,413.50)" font-size="27" font-family='"Liberation Serif", serif' font-weight="bold" fill="#0d0d0d" stroke="#0d0d0d" stroke-width="0.35">10</text>
<text transform="translate(271.80,444.20)" font-size="26.7" font-family='"Liberation Serif", serif' font-weight="bold" fill="#0d0d0d" stroke="#0d0d0d" stroke-width="0.35">[L-arginine<tspan font-size="17" dy="5">o</tspan><tspan dy="-5">] (&#956;M)</tspan></text>
<text transform="translate(65.90,340.45) rotate(-90)" font-size="26.7" font-family='"Liberation Serif", serif' font-weight="bold" fill="#0d0d0d" stroke="#0d0d0d" stroke-width="0.35">pmol / mg prot . 5s</text>
<text transform="translate(0.80,532.40)" font-size="46.5" font-family='"Liberation Sans", sans-serif' font-weight="bold" fill="#0d0d0d" stroke="#0d0d0d" stroke-width="0.35">B</text>
<text transform="translate(71.00,881.40)" font-size="27" font-family='"Liberation Serif", serif' font-weight="bold" fill="#0d0d0d" stroke="#0d0d0d" stroke-width="0.35">0</text>
<text transform="translate(71.00,841.80)" font-size="27" font-family='"Liberation Serif", serif' font-weight="bold" fill="#0d0d0d" stroke="#0d0d0d" stroke-width="0.35">2</text>
<text transform="translate(71.00,800.60)" font-size="27" font-family='"Liberation Serif", serif' font-weight="bold" fill="#0d0d0d" stroke="#0d0d0d" stroke-width="0.35">4</text>
<text transform="translate(71.00,759.10)" font-size="27" font-family='"Liberation Serif", serif' font-weight="bold" fill="#0d0d0d" stroke="#0d0d0d" stroke-width="0.35">6</text>
<text transform="translate(71.00,717.50)" font-size="27" font-family='"Liberation Serif", serif' font-weight="bold" fill="#0d0d0d" stroke="#0d0d0d" stroke-width="0.35">8</text>
<text transform="translate(58.00,676.00)" font-size="27" font-family='"Liberation Serif", serif' font-weight="bold" fill="#0d0d0d" stroke="#0d0d0d" stroke-width="0.35">10</text>
<text transform="translate(58.00,635.20)" font-size="27" font-family='"Liberation Serif", serif' font-weight="bold" fill="#0d0d0d" stroke="#0d0d0d" stroke-width="0.35">12</text>
<text transform="translate(57.00,593.20)" font-size="27" font-family='"Liberation Serif", serif' font-weight="bold" fill="#0d0d0d" stroke="#0d0d0d" stroke-width="0.35">14</text>
<text transform="translate(93.90,910.00)" font-size="27" font-family='"Liberation Serif", serif' font-weight="bold" fill="#0d0d0d" stroke="#0d0d0d" stroke-width="0.35">0</text>
<text transform="translate(200.70,910.00)" font-size="27" font-family='"Liberation Serif", serif' font-weight="bold" fill="#0d0d0d" stroke="#0d0d0d" stroke-width="0.35">2</text>
<text transform="translate(306.40,910.00)" font-size="27" font-family='"Liberation Serif", serif' font-weight="bold" fill="#0d0d0d" stroke="#0d0d0d" stroke-width="0.35">4</text>
<text transform="translate(411.90,910.00)" font-size="27" font-family='"Liberation Serif", serif' font-weight="bold" fill="#0d0d0d" stroke="#0d0d0d" stroke-width="0.35">6</text>
<text transform="translate(517.90,910.00)" font-size="27" font-family='"Liberation Serif", serif' font-weight="bold" fill="#0d0d0d" stroke="#0d0d0d" stroke-width="0.35">8</text>
<text transform="translate(617.50,910.00)" font-size="27" font-family='"Liberation Serif", serif' font-weight="bold" fill="#0d0d0d" stroke="#0d0d0d" stroke-width="0.35">10</text>
<text transform="translate(275.15,940.90)" font-size="26.7" font-family='"Liberation Serif", serif' font-weight="bold" fill="#0d0d0d" stroke="#0d0d0d" stroke-width="0.35">[L-leucine<tspan font-size="17" dy="5">i</tspan><tspan dy="-5">] (mM)</tspan></text>
<text transform="translate(38.10,826.35) rotate(-90)" font-size="26.7" font-family='"Liberation Serif", serif' font-weight="bold" fill="#0d0d0d" stroke="#0d0d0d" stroke-width="0.35">pmol / mg prot . 5s</text>
<text transform="translate(4.10,1038.20)" font-size="46.5" font-family='"Liberation Sans", sans-serif' font-weight="bold" fill="#0d0d0d" stroke="#0d0d0d" stroke-width="0.35">C</text>
<text transform="translate(96.10,1374.00)" font-size="27" font-family='"Liberation Serif", serif' font-weight="bold" fill="#0d0d0d" stroke="#0d0d0d" stroke-width="0.35">0</text>
<text transform="translate(97.10,1316.20)" font-size="27" font-family='"Liberation Serif", serif' font-weight="bold" fill="#0d0d0d" stroke="#0d0d0d" stroke-width="0.35">1</text>
<text transform="translate(96.10,1258.30)" font-size="27" font-family='"Liberation Serif", serif' font-weight="bold" fill="#0d0d0d" stroke="#0d0d0d" stroke-width="0.35">2</text>
<text transform="translate(96.10,1199.20)" font-size="27" font-family='"Liberation Serif", serif' font-weight="bold" fill="#0d0d0d" stroke="#0d0d0d" stroke-width="0.35">3</text>
<text transform="translate(96.10,1140.40)" font-size="27" font-family='"Liberation Serif", serif' font-weight="bold" fill="#0d0d0d" stroke="#0d0d0d" stroke-width="0.35">4</text>
<text transform="translate(96.10,1082.60)" font-size="27" font-family='"Liberation Serif", serif' font-weight="bold" fill="#0d0d0d" stroke="#0d0d0d" stroke-width="0.35">5</text>
<text transform="translate(96.10,1024.90)" font-size="27" font-family='"Liberation Serif", serif' font-weight="bold" fill="#0d0d0d" stroke="#0d0d0d" stroke-width="0.35">6</text>
<text transform="translate(140.10,1410.50)" font-size="27" font-family='"Liberation Serif", serif' font-weight="bold" fill="#0d0d0d" stroke="#0d0d0d" stroke-width="0.35">0</text>
<text transform="translate(191.90,1410.50)" font-size="27" font-family='"Liberation Serif", serif' font-weight="bold" fill="#0d0d0d" stroke="#0d0d0d" stroke-width="0.35">20</text>
<text transform="translate(251.40,1410.50)" font-size="27" font-family='"Liberation Serif", serif' font-weight="bold" fill="#0d0d0d" stroke="#0d0d0d" stroke-width="0.35">40</text>
<text transform="translate(309.15,1410.50)" font-size="27" font-family='"Liberation Serif", serif' font-weight="bold" fill="#0d0d0d" stroke="#0d0d0d" stroke-width="0.35">60</text>
<text transform="translate(367.40,1410.50)" font-size="27" font-family='"Liberation Serif", serif' font-weight="bold" fill="#0d0d0d" stroke="#0d0d0d" stroke-width="0.35">80</text>
<text transform="translate(420.30,1410.50)" font-size="27" font-family='"Liberation Serif", serif' font-weight="bold" fill="#0d0d0d" stroke="#0d0d0d" stroke-width="0.35">100</text>
<text transform="translate(613.50,1410.50)" font-size="27" font-family='"Liberation Serif", serif' font-weight="bold" fill="#0d0d0d" stroke="#0d0d0d" stroke-width="0.35">500</text>
<text transform="translate(291.90,1440.50)" font-size="26.7" font-family='"Liberation Serif", serif' font-weight="bold" fill="#0d0d0d" stroke="#0d0d0d" stroke-width="0.35">[inhibitor<tspan font-size="17" dy="5">o</tspan><tspan dy="-5">] (&#956;M)</tspan></text>
<text transform="translate(71.00,1291.60) rotate(-90)" font-size="26.7" font-family='"Liberation Serif", serif' font-weight="bold" fill="#0d0d0d" stroke="#0d0d0d" stroke-width="0.35">pmol / mg prot . 5s</text>
<text transform="translate(521.70,1098.80)" font-size="26.7" font-family='"Liberation Serif", serif' font-weight="bold" fill="#0d0d0d" stroke="#0d0d0d" stroke-width="0.35">Cssc</text>
<text transform="translate(522.70,1135.60)" font-size="26.7" font-family='"Liberation Serif", serif' font-weight="bold" fill="#0d0d0d" stroke="#0d0d0d" stroke-width="0.35">Leu</text>
<text transform="translate(2.30,1520.60)" font-size="46.5" font-family='"Liberation Sans", sans-serif' font-weight="bold" fill="#0d0d0d" stroke="#0d0d0d" stroke-width="0.35">D</text>
<text transform="translate(104.25,1692.50)" font-size="27" font-family='"Liberation Serif", serif' font-weight="bold" fill="#0d0d0d" stroke="#0d0d0d" stroke-width="0.35">2</text>
<text transform="translate(104.25,1597.90)" font-size="27" font-family='"Liberation Serif", serif' font-weight="bold" fill="#0d0d0d" stroke="#0d0d0d" stroke-width="0.35">3</text>
<text transform="translate(24.80,1898.35)" font-size="27" font-family='"Liberation Serif", serif' font-weight="bold" fill="#0d0d0d" stroke="#0d0d0d" stroke-width="0.35">-10</text>
<text transform="translate(121.20,1898.35)" font-size="27" font-family='"Liberation Serif", serif' font-weight="bold" fill="#0d0d0d" stroke="#0d0d0d" stroke-width="0.35">0</text>
<text transform="translate(200.16,1898.35)" font-size="27" font-family='"Liberation Serif", serif' font-weight="bold" fill="#0d0d0d" stroke="#0d0d0d" stroke-width="0.35">10</text>
<text transform="translate(287.02,1898.35)" font-size="27" font-family='"Liberation Serif", serif' font-weight="bold" fill="#0d0d0d" stroke="#0d0d0d" stroke-width="0.35">20</text>
<text transform="translate(373.38,1898.35)" font-size="27" font-family='"Liberation Serif", serif' font-weight="bold" fill="#0d0d0d" stroke="#0d0d0d" stroke-width="0.35">30</text>
<text transform="translate(460.24,1898.35)" font-size="27" font-family='"Liberation Serif", serif' font-weight="bold" fill="#0d0d0d" stroke="#0d0d0d" stroke-width="0.35">40</text>
<text transform="translate(546.10,1898.35)" font-size="27" font-family='"Liberation Serif", serif' font-weight="bold" fill="#0d0d0d" stroke="#0d0d0d" stroke-width="0.35">50</text>
<text transform="translate(235.60,1939.80)" font-size="26.7" font-family='"Liberation Serif", serif' font-weight="bold" fill="#0d0d0d" stroke="#0d0d0d" stroke-width="0.35">[L-leucine<tspan font-size="17" dy="5">o</tspan><tspan dy="-5">] (&#956;M)</tspan></text>
<text transform="translate(79.80,1802.20) rotate(-90)" font-size="26.7" font-family='"Liberation Serif", serif' font-weight="bold" fill="#0d0d0d" stroke="#0d0d0d" stroke-width="0.35">(pmol / mg prot . 5s)<tspan font-size="17" dy="-10">-1</tspan></text>
<text transform="translate(517.50,1512.20)" font-size="26.7" font-family='"Liberation Serif", serif' font-weight="bold" fill="#0d0d0d" stroke="#0d0d0d" stroke-width="0.35">[L-arg<tspan font-size="17" dy="5">o</tspan><tspan dy="-5">] (&#956;M)</tspan></text>
<text transform="translate(592.10,1558.40)" font-size="27" font-family='"Liberation Serif", serif' font-weight="bold" fill="#0d0d0d" stroke="#0d0d0d" stroke-width="0.35">0.25</text>
<text transform="translate(596.90,1741.00)" font-size="27" font-family='"Liberation Serif", serif' font-weight="bold" fill="#0d0d0d" stroke="#0d0d0d" stroke-width="0.35">0.5</text>
</g>
</svg>
</body></html>
